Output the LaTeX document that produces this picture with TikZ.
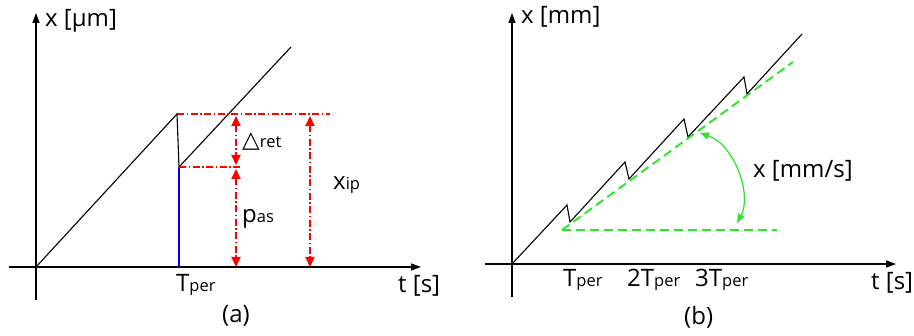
\documentclass[tikz,border=0pt]{standalone}
\usepackage{fontspec}
\setmainfont{Open Sans}
\newfontfamily\symf{DejaVu Sans}
\usetikzlibrary{arrows.meta}
\definecolor{gline}{RGB}{40,230,40}
\newcommand\lowsub[1]{{\fontsize{16.5}{16.5}\selectfont #1}}
\begin{document}
\begin{tikzpicture}[x=1pt,y=-1pt,
  axis/.style={line width=1.4pt,-{Triangle[length=10pt,width=7pt]}},
  curve/.style={line width=1.1pt},
  reddd/.style={red,line width=2.2pt,dash pattern=on 7pt off 2.5pt on 1.5pt off 2.5pt},
  redarr/.style={reddd,{Triangle[length=10pt,width=9pt]}-{Triangle[length=10pt,width=9pt]}},
  gdash/.style={gline,line width=1.9pt,dash pattern=on 9pt off 5pt},
  lbl/.style={inner sep=0pt,anchor=base west,font=\fontsize{24}{24}\selectfont}]
\useasboundingbox (0,0) rectangle (914,336);
% ---------- panel (a)
\coordinate (aO) at (36,267);
\coordinate (aYb) at (36,300);
\coordinate (aYt) at (36,13);
\coordinate (aXl) at (9,267);
\coordinate (aXr) at (421,267);
\draw[axis] (aYb) -- (aYt);
\draw[axis] (aXl) -- (aXr);
\coordinate (aP) at (177,114);
\coordinate (aQ) at (179,167);
\coordinate (aE) at (291,47);
\draw[curve] (aO) -- (aP) -- (aQ) -- (aE);
\coordinate (aT) at (179,267);
\draw[blue,line width=1.3pt] (aQ) -- (aT);
\coordinate (aTopR) at (330,114);
\coordinate (aMidR) at (240,167);
\draw[reddd] (aP) -- (aTopR);
\draw[reddd] (aQ) -- (aMidR);
\coordinate (r1t) at (236,116);
\coordinate (r1b) at (236,165);
\coordinate (r2t) at (236,169);
\coordinate (r2b) at (236,267);
\coordinate (r3t) at (310,116);
\coordinate (r3b) at (310,267);
\draw[redarr] (r1t) -- (r1b);
\draw[redarr] (r2t) -- (r2b);
\draw[redarr] (r3t) -- (r3b);
\node[lbl] (aylab) at (45,27) {x [µm]};
\node[lbl] (axlab) at (398,293) {t [s]};
\node[lbl] (aTper) at (176,292) {T\lowsub{per}};
\node[lbl] (aret) at (242,148) {{\symf\fontsize{23}{23}\selectfont △}\lowsub{ret}};
\node[lbl] (axip) at (333,190) {x\lowsub{ip}};
\node[lbl] (apas) at (242,223) {p\lowsub{as}};
\node[lbl] (acap) at (222,323) {(a)};
% ---------- panel (b)
\coordinate (bO) at (512,264);
\coordinate (bYb) at (512,297);
\coordinate (bYt) at (512,13);
\coordinate (bXl) at (485,264);
\coordinate (bXr) at (896,264);
\draw[axis] (bYb) -- (bYt);
\draw[axis] (bXl) -- (bXr);
\coordinate (s1) at (567,205);
\coordinate (s2) at (570,222);
\coordinate (s3) at (625,162);
\coordinate (s4) at (629,179);
\coordinate (s5) at (684,119);
\coordinate (s6) at (688,137);
\coordinate (s7) at (744,77);
\coordinate (s8) at (747,94);
\coordinate (s9) at (802,34);
\draw[curve] (bO) -- (s1) -- (s2) -- (s3) -- (s4) -- (s5) -- (s6) -- (s7) -- (s8) -- (s9);
\coordinate (g0) at (562,230);
\coordinate (g1) at (793,62);
\coordinate (g2) at (777,230);
\draw[gdash] (g0) -- (g1);
\draw[gdash] (g0) -- (g2);
\coordinate (ga) at (700,133);
\coordinate (gb) at (737,223);
\draw[gline,line width=1.2pt,{Triangle[length=9pt,width=7pt]}-{Triangle[length=9pt,width=7pt]}]
  (ga) .. controls (735,145) and (752,195) .. (gb);
\node[lbl] (bylab) at (521,24) {x [mm]};
\node[lbl] (bxlab) at (871,290) {t [s]};
\node[lbl] (bT1) at (563,287) {T\lowsub{per}};
\node[lbl] (bT2) at (627,287) {2T\lowsub{per}};
\node[lbl] (bT3) at (695,287) {3T\lowsub{per}};
\node[lbl] (bvel) at (753,178) {x [mm/s]};
\node[lbl] (bcap) at (684,325) {(b)};
\end{tikzpicture}
\end{document}
